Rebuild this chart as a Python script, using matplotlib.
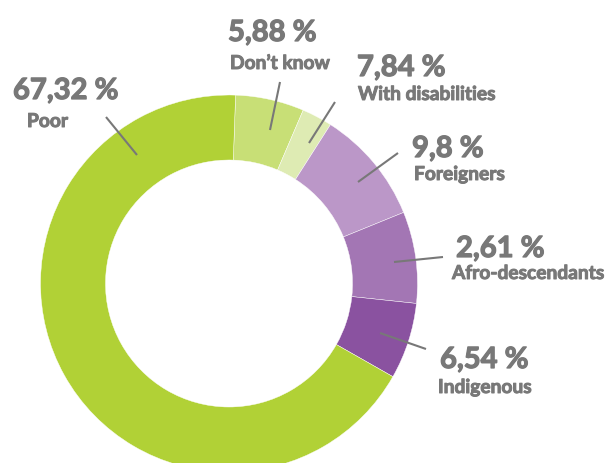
import matplotlib
matplotlib.use("Agg")
import matplotlib.pyplot as plt
import matplotlib.patheffects as pe

# ---- data (clockwise from top) ----
categories = ["Don’t know", "With disabilities", "Foreigners",
              "Afro-descendants", "Indigenous", "Poor"]
values = [5.88, 2.61, 9.80, 7.84, 6.54, 67.32]
# percentage labels exactly as printed on the chart
pct_labels = ["5,88 %", "7,84 %", "9,8 %", "2,61 %", "6,54 %", "67,32 %"]

colors = ["#c8df76", "#deebb3", "#bb97c8", "#a376b4", "#8a52a0", "#b1d136"]
TEXT = "#787878"

W, H = 610, 463
fig = plt.figure(figsize=(W / 100, H / 100), dpi=100)
ax = fig.add_axes([0, 0, 1, 1])

def P(x, y):
    """pixel coords (origin top-left) -> data coords"""
    return x, H - y

cx, cy = P(229, 283.5)
R = 188.5
ax.pie(values, colors=colors, startangle=88, counterclock=False,
       center=(cx, cy), radius=R,
       wedgeprops=dict(width=65, edgecolor="white", linewidth=0.3))
ax.set_xlim(0, W)
ax.set_ylim(0, H)
ax.set_aspect("equal")
ax.axis("off")

FONT = ["Lato", "DejaVu Sans"]
big_fx = [pe.withStroke(linewidth=0.9, foreground=TEXT)]
small_fx = [pe.withStroke(linewidth=0.7, foreground=TEXT)]

# label layout: (pct xy, name xy, leader start, leader end) in pixel coords
layout = {
    "Don’t know":        ((228, 41), (230, 69), (270, 130), (280, 82)),
    "With disabilities": ((357, 76), (358, 100), (309, 143), (335, 102)),
    "Foreigners":        ((412, 157), (414, 180), (358, 182), (398, 153)),
    "Afro-descendants":  ((456, 257), (452, 279), (394, 262), (443, 257)),
    "Indigenous":        ((440, 368), (438, 393), (380, 333), (426, 349)),
    "Poor":              ((13, 99), (27, 127), (137, 155), (106, 117)),
}

for cat, pct in zip(categories, pct_labels):
    (px, py), (nx, ny), (l0x, l0y), (l1x, l1y) = layout[cat]
    ax.text(*P(px, py), pct, family=FONT, weight="bold", fontsize=21,
            color=TEXT, ha="left", va="baseline", path_effects=big_fx)
    ax.text(*P(nx, ny), cat, family=FONT, weight="bold", fontsize=13.8,
            color=TEXT, ha="left", va="baseline", path_effects=small_fx)
    a, b = P(l0x, l0y), P(l1x, l1y)
    ax.plot([a[0], b[0]], [a[1], b[1]], color=TEXT, lw=1.5,
            solid_capstyle="butt")

fig.savefig("out.png", dpi=100, facecolor="white")
